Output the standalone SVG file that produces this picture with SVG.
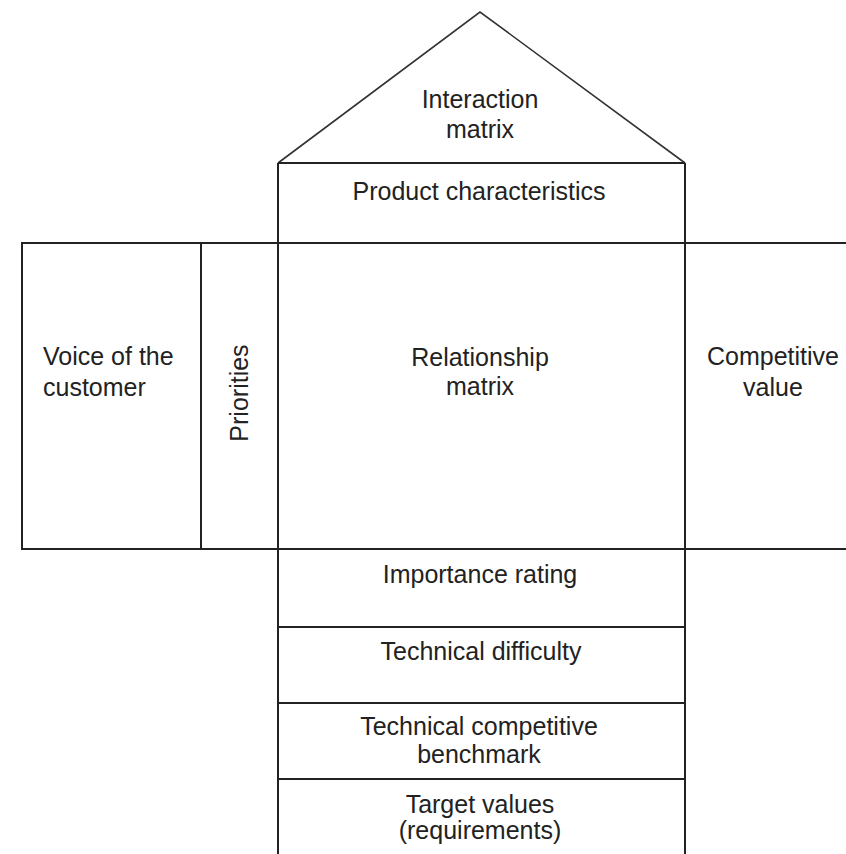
<svg xmlns="http://www.w3.org/2000/svg" width="846" height="854" viewBox="0 0 846 854">
<style>
.ln{stroke:#222;stroke-width:2;fill:none}
.rf{stroke:#333;stroke-width:1.6;fill:none}
text{font-family:"Liberation Sans",Arial,sans-serif;font-size:25px;fill:#222}
.c{text-anchor:middle}
</style>
<rect width="846" height="854" fill="#fff"/>
<g id="roof">
<polyline class="rf" points="278,163 480,12 685,163"/>
<text class="c" x="480" y="108">Interaction</text>
<text class="c" x="480" y="138">matrix</text>
</g>
<g id="product-characteristics">
<text class="c" x="479" y="200">Product characteristics</text>
</g>
<g id="voice-of-customer">
<rect class="ln" x="22" y="243" width="179" height="306"/>
<text x="43" y="365">Voice of the</text>
<text x="43" y="396">customer</text>
</g>
<g id="priorities">
<text class="c" transform="translate(248,393) rotate(-90)">Priorities</text>
</g>
<g id="relationship-matrix">
<text class="c" x="480" y="366">Relationship</text>
<text class="c" x="480" y="395">matrix</text>
</g>
<g id="competitive-value">
<text class="c" x="773" y="365">Competitive</text>
<text class="c" x="773" y="396">value</text>
</g>
<g id="importance-rating">
<text class="c" x="480" y="583">Importance rating</text>
</g>
<g id="technical-difficulty">
<text class="c" x="481" y="660">Technical difficulty</text>
</g>
<g id="technical-benchmark">
<text class="c" x="479" y="735">Technical competitive</text>
<text class="c" x="479" y="763">benchmark</text>
</g>
<g id="target-values">
<text class="c" x="480" y="813">Target values</text>
<text class="c" x="480" y="839">(requirements)</text>
</g>
<g id="connectors">
<line class="ln" x1="278" y1="163" x2="685" y2="163"/>
<line class="ln" x1="278" y1="163" x2="278" y2="854"/>
<line class="ln" x1="685" y1="163" x2="685" y2="854"/>
<line class="ln" x1="22" y1="243" x2="846" y2="243"/>
<line class="ln" x1="22" y1="549" x2="846" y2="549"/>
<line class="ln" x1="278" y1="627" x2="685" y2="627"/>
<line class="ln" x1="278" y1="703" x2="685" y2="703"/>
<line class="ln" x1="278" y1="779" x2="685" y2="779"/>
</g>
</svg>
